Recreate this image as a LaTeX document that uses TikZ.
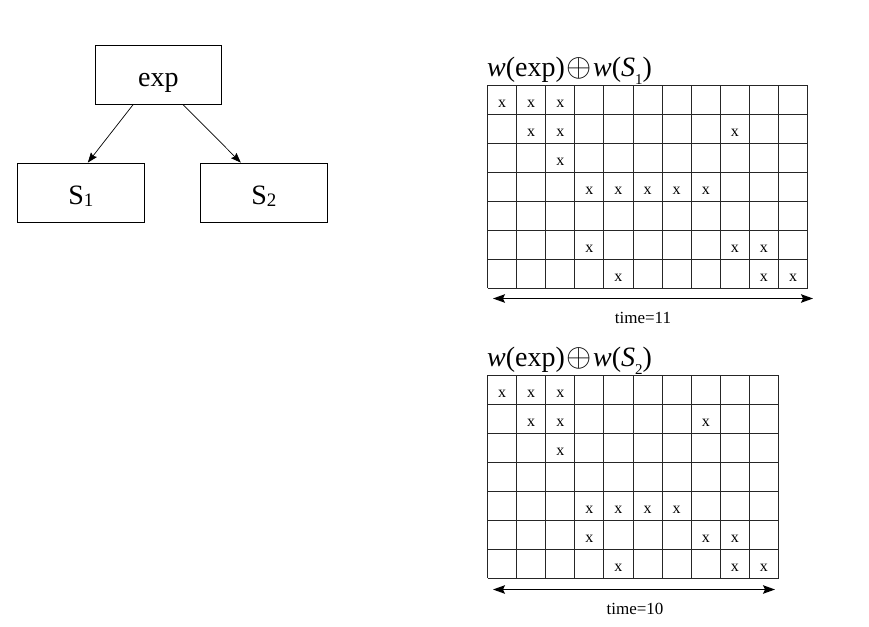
\documentclass[tikz,border=0pt]{standalone}
\usepackage{fontspec}
\setmainfont{Liberation Serif}
\usetikzlibrary{arrows.meta}
\begin{document}
\begin{tikzpicture}[x=1pt,y=-1pt,
  box/.style={draw, line width=0.8pt, minimum width=126.5pt, inner sep=0pt, text height=41.5pt, text depth=17.5pt, font=\fontsize{28}{32}\selectfont},
  link/.style={-{Stealth[length=10pt,width=7.5pt,inset=1.5pt]}, line width=0.7pt},
  gridline/.style={line width=0.9pt, black!85},
  xmark/.style={inner sep=0pt, font=\fontsize{16}{16}\selectfont},
  timearrow/.style={{Stealth[length=12pt,width=8.5pt,inset=2pt]}-{Stealth[length=12pt,width=8.5pt,inset=2pt]}, line width=1.2pt},
  timelabel/.style={anchor=base, inner sep=0pt, font=\fontsize{17}{17}\selectfont},
  titletext/.style={anchor=base west, inner sep=0pt, font=\fontsize{28}{32}\selectfont}]
\useasboundingbox (0,0) rectangle (869,626);

% tree
\node[box] (exp) at (158.3,74.5) {exp};
\node[box] (s1) at (80.8,192.5) {S\raisebox{-0.08em}{\fontsize{19}{19}\selectfont 1}};
\node[box] (s2) at (263.8,192.5) {S\raisebox{-0.08em}{\fontsize{19}{19}\selectfont 2}};
\draw[link] ([xshift=-25pt]exp.south) -- ([xshift=7pt]s1.north);
\draw[link] ([xshift=24.5pt]exp.south) -- ([xshift=-23pt]s2.north);

% grid 1
\node[titletext] (t1) at (487,76.5) {\textit{w}(exp)\kern1.5pt\scalebox{1.3}{$\oplus$}\kern1.5pt\textit{w}(\textit{S}\raisebox{-0.3em}{\fontsize{15}{15}\selectfont 1})};
\foreach \i in {0,...,11} \draw[gridline] (487.5+\i*29.1,85) -- (487.5+\i*29.1,288.35);
\foreach \j in {0,...,7} \draw[gridline] (487.5,85+\j*29.05) -- (807.6,85+\j*29.05);
\foreach \r/\c in {0/0,0/1,0/2,1/1,1/2,1/8,2/2,3/3,3/4,3/5,3/6,3/7,5/3,5/8,5/9,6/4,6/9,6/10}
  \node[xmark] (ga-\r-\c) at (487.5+\c*29.1+14.55, 85+\r*29.05+18.5) {x};
\coordinate (a1l) at (493,298.5);
\coordinate (a1r) at (813,298.5);
\draw[timearrow] (a1l) -- (a1r);
\node[timelabel] (tl1) at (643,323.5) {time=11};

% grid 2
\node[titletext] (t2) at (487,366.5) {\textit{w}(exp)\kern1.5pt\scalebox{1.3}{$\oplus$}\kern1.5pt\textit{w}(\textit{S}\raisebox{-0.3em}{\fontsize{15}{15}\selectfont 2})};
\foreach \i in {0,...,10} \draw[gridline] (487.5+\i*29.1,375) -- (487.5+\i*29.1,578.35);
\foreach \j in {0,...,7} \draw[gridline] (487.5,375+\j*29.05) -- (778.5,375+\j*29.05);
\foreach \r/\c in {0/0,0/1,0/2,1/1,1/2,1/7,2/2,4/3,4/4,4/5,4/6,5/3,5/7,5/8,6/4,6/8,6/9}
  \node[xmark] (gb-\r-\c) at (487.5+\c*29.1+14.55, 375+\r*29.05+18.5) {x};
\coordinate (a2l) at (493,589.5);
\coordinate (a2r) at (775,589.5);
\draw[timearrow] (a2l) -- (a2r);
\node[timelabel] (tl2) at (635,614) {time=10};
\end{tikzpicture}
\end{document}
